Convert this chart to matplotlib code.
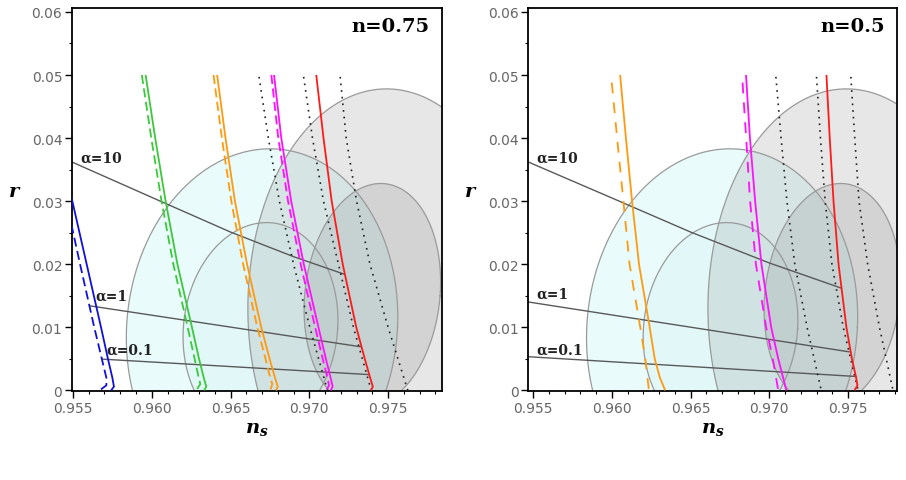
import numpy as np
import matplotlib
matplotlib.use("Agg")
import matplotlib.pyplot as plt
from matplotlib.ticker import MultipleLocator, FuncFormatter

plt.rcParams["mathtext.fontset"] = "custom"
plt.rcParams["mathtext.it"] = "DejaVu Serif:italic:bold"
plt.rcParams["mathtext.rm"] = "DejaVu Serif:bold"

# Observational contours: (ns centre, r centre, half-width, half-height, shear)
CYAN_OUTER = (0.9670, 0.0100, 0.0086, 0.0283, 0.018)
CYAN_INNER = (0.9669, 0.0098, 0.0049, 0.0168, 0.023)
GRAY_OUTER = (0.9749, 0.0130, 0.0088, 0.0348, 0.0)
GRAY_INNER = (0.9740, 0.0150, 0.0043, 0.0178, 0.030)

# ---- n = 0.75 panel, curves as (ns, r)
L_BLUE = [(0.95485, 0.0312), (0.95587, 0.0200), (0.95678, 0.0100), (0.95722, 0.0050),
          (0.95750, 0.0020), (0.95760, 0.0006), (0.95742, 0.0)]
L_BLUE_D = [(0.95490, 0.0263), (0.95545, 0.0200), (0.95635, 0.0100), (0.95683, 0.0050),
            (0.95712, 0.0020), (0.95712, 0.0008), (0.95680, 0.0002), (0.95652, 0.0)]
L_GREEN = [(0.95961, 0.0500), (0.96022, 0.0400), (0.96088, 0.0300), (0.96163, 0.0200),
           (0.96255, 0.0100), (0.96300, 0.0050), (0.96330, 0.0020), (0.96346, 0.0006),
           (0.96333, 0.0)]
L_GREEN_D = [(0.95937, 0.0500), (0.95997, 0.0400), (0.96062, 0.0300), (0.96137, 0.0200),
             (0.96228, 0.0100), (0.96272, 0.0050), (0.96298, 0.0020), (0.96308, 0.0010),
             (0.96282, 0.0)]
L_ORANGE = [(0.96415, 0.0500), (0.96468, 0.0400), (0.96528, 0.0300), (0.96605, 0.0200),
            (0.96695, 0.0100), (0.96748, 0.0050), (0.96782, 0.0020), (0.96800, 0.0006),
            (0.96788, 0.0)]
L_ORANGE_D = [(0.96392, 0.0500), (0.96445, 0.0400), (0.96505, 0.0300), (0.96580, 0.0200),
              (0.96670, 0.0100), (0.96722, 0.0050), (0.96752, 0.0020), (0.96765, 0.0010),
              (0.96752, 0.0)]
L_MAGENTA = [(0.96776, 0.0500), (0.96822, 0.0400), (0.96885, 0.0300), (0.96965, 0.0200),
             (0.97058, 0.0100), (0.97105, 0.0050), (0.97135, 0.0020), (0.97148, 0.0006),
             (0.97136, 0.0)]
L_MAGENTA_D = [(0.96759, 0.0500), (0.96803, 0.0400), (0.96865, 0.0300), (0.96945, 0.0200),
               (0.97037, 0.0100), (0.97085, 0.0050), (0.97115, 0.0020), (0.97125, 0.0008),
               (0.97108, 0.0)]
L_RED = [(0.97044, 0.0500), (0.97090, 0.0400), (0.97142, 0.0300), (0.97212, 0.0200),
         (0.97298, 0.0100), (0.97352, 0.0050), (0.97386, 0.0020), (0.97403, 0.0006),
         (0.97392, 0.0)]
L_DOTS = [
    [(0.96681, 0.0497), (0.96740, 0.0400), (0.96810, 0.0300), (0.96900, 0.0200),
     (0.97003, 0.0100), (0.97115, 0.0)],
    [(0.96964, 0.0497), (0.97020, 0.0400), (0.97090, 0.0300), (0.97185, 0.0200),
     (0.97280, 0.0100), (0.97393, 0.0)],
    [(0.97196, 0.0497), (0.97234, 0.0400), (0.97300, 0.0300), (0.97385, 0.0200),
     (0.97500, 0.0100), (0.97625, 0.0)],
]
L_ALPHA = [
    [(0.95494, 0.0362), (0.9600, 0.0306), (0.9650, 0.0251), (0.9690, 0.0212), (0.97224, 0.0184)],
    [(0.95608, 0.0134), (0.97330, 0.0069)],
    [(0.95682, 0.00496), (0.97382, 0.0025)],
]
L_ALPHA_TXT = [(0.95544, 0.0369), (0.95640, 0.0150), (0.95715, 0.0065)]

# ---- n = 0.5 panel
R_ORANGE = [(0.96052, 0.0500), (0.96089, 0.0400), (0.96128, 0.0300), (0.96172, 0.0200),
            (0.96240, 0.0100), (0.96272, 0.0050), (0.96305, 0.0020), (0.96330, 0.0005),
            (0.96338, 0.0)]
R_ORANGE_D = [(0.95999, 0.0488), (0.96033, 0.0400), (0.96073, 0.0300), (0.96112, 0.0200),
              (0.96180, 0.0100), (0.96212, 0.0050), (0.96235, 0.0)]
R_MAGENTA = [(0.96852, 0.0500), (0.96877, 0.0400), (0.96910, 0.0300), (0.96950, 0.0200),
             (0.97012, 0.0100), (0.97057, 0.0050), (0.97088, 0.0020), (0.97108, 0.0)]
R_MAGENTA_D = [(0.96830, 0.0488), (0.96853, 0.0400), (0.96878, 0.0300), (0.96915, 0.0200),
               (0.96980, 0.0100), (0.97022, 0.0050), (0.97057, 0.0)]
R_RED = [(0.97363, 0.0500), (0.97384, 0.0400), (0.97408, 0.0300), (0.97440, 0.0200),
         (0.97490, 0.0100), (0.97525, 0.0050), (0.97552, 0.0020), (0.97560, 0.0008),
         (0.97542, 0.0)]
R_DOTS = [
    [(0.97042, 0.0497), (0.97075, 0.0400), (0.97112, 0.0300), (0.97162, 0.0200),
     (0.97240, 0.0100), (0.97330, 0.0)],
    [(0.97300, 0.0497), (0.97325, 0.0400), (0.97355, 0.0300), (0.97398, 0.0200),
     (0.97470, 0.0100), (0.97564, 0.0)],
    [(0.97518, 0.0497), (0.97543, 0.0400), (0.97570, 0.0300), (0.97625, 0.0200),
     (0.97700, 0.0100), (0.97786, 0.0)],
]
R_ALPHA = [
    [(0.9546, 0.0363), (0.9600, 0.0305), (0.9650, 0.0251), (0.9700, 0.0202), (0.97459, 0.0162)],
    [(0.9546, 0.01405), (0.97511, 0.0061)],
    [(0.9546, 0.00535), (0.97554, 0.0022)],
]
R_ALPHA_TXT = [(0.95523, 0.0369), (0.95523, 0.0153), (0.95523, 0.0065)]

ALPHA_LABELS = ["\u03b1=10", "\u03b1=1", "\u03b1=0.1"]
PANEL_LABELS = ["n=0.75", "n=0.5"]

BLUE, GREEN, ORANGE, MAGENTA, RED = "#1010d8", "#3cc83c", "#ff9a10", "#ff10ff", "#ff1a1a"


def ellipse(ax, params, face, alpha):
    cx, cy, a, b, s = params
    t = np.linspace(0, 2 * np.pi, 300)
    y = cy + b * np.sin(t)
    x = cx + a * np.cos(t) + s * (y - cy)
    ax.fill(x, y, facecolor=face, alpha=alpha, edgecolor="none", zorder=1)
    ax.plot(x, y, color="#9a9a9a", lw=0.9, zorder=1.5)


def curve(ax, pts, color, ls="-", lw=1.3, z=3):
    arr = np.array(pts)
    ax.plot(arr[:, 0], arr[:, 1], color=color, ls=ls, lw=lw, zorder=z,
            solid_capstyle="butt", dash_capstyle="butt", solid_joinstyle="round")


def style_axes(ax, xlim):
    ax.set_xlim(*xlim)
    ax.set_ylim(-0.0001, 0.0606)
    ax.xaxis.set_major_locator(MultipleLocator(0.005))
    ax.xaxis.set_minor_locator(MultipleLocator(0.001))
    ax.yaxis.set_major_locator(MultipleLocator(0.01))
    ax.yaxis.set_minor_locator(MultipleLocator(0.005))
    ax.xaxis.set_major_formatter(FuncFormatter(lambda v, p: f"{v:.3f}"))
    ax.yaxis.set_major_formatter(FuncFormatter(lambda v, p: "0" if abs(v) < 1e-9 else f"{v:.2f}"))
    ax.tick_params(which="major", direction="out", length=5, width=1.0,
                   labelsize=10, labelcolor="#666666", pad=2)
    ax.tick_params(which="minor", direction="out", length=2.5, width=0.8)
    ax.tick_params(axis="y", which="both", right=False)
    ax.tick_params(axis="x", which="both", top=False)
    for sp in ax.spines.values():
        sp.set_linewidth(1.3)
    ax.set_xlabel("$n_s$", fontsize=14)
    ax.set_ylabel("$r$", fontsize=14, rotation=0)
    ax.xaxis.set_label_coords(0.5, -0.07)
    ax.yaxis.set_label_coords(-0.155, 0.5)


def draw_panel(ax, curves, dashed, dots, alphas, alpha_txt, label, xlim):
    ellipse(ax, CYAN_OUTER, "#e9fbfb", 1.0)
    ellipse(ax, CYAN_INNER, "#e2f8f8", 1.0)
    ellipse(ax, GRAY_OUTER, "#969696", 0.22)
    ellipse(ax, GRAY_INNER, "#969696", 0.24)
    for pts in alphas:
        curve(ax, pts, "#595959", lw=1.0, z=2)
    for (x, y), txt in zip(alpha_txt, ALPHA_LABELS):
        ax.text(x, y, txt, fontsize=10, fontfamily="DejaVu Serif", fontweight="bold",
                color="#222222", ha="left", va="center", zorder=4)
    for pts in dots:
        curve(ax, pts, "#222222", ls=(0, (1, 3)), lw=1.2)
    for pts, c in dashed:
        curve(ax, pts, c, ls=(0, (5, 2.5)) if label == PANEL_LABELS[0] else (0, (6, 5)))
    for pts, c in curves:
        curve(ax, pts, c)
    ax.text(0.968, 0.953, label, transform=ax.transAxes, ha="right", va="center",
            fontfamily="DejaVu Serif", fontweight="bold", fontsize=14)
    style_axes(ax, xlim)


fig = plt.figure(figsize=(9.06, 4.81), dpi=100)
ax1 = fig.add_axes([0.0795, 0.185, 0.408, 0.796])
ax2 = fig.add_axes([0.583, 0.185, 0.407, 0.796])

draw_panel(ax1,
           [(L_BLUE, BLUE), (L_GREEN, GREEN), (L_ORANGE, ORANGE), (L_MAGENTA, MAGENTA), (L_RED, RED)],
           [(L_BLUE_D, BLUE), (L_GREEN_D, GREEN), (L_ORANGE_D, ORANGE), (L_MAGENTA_D, MAGENTA)],
           L_DOTS, L_ALPHA, L_ALPHA_TXT, PANEL_LABELS[0], (0.95494, 0.97840))
draw_panel(ax2,
           [(R_ORANGE, ORANGE), (R_MAGENTA, MAGENTA), (R_RED, RED)],
           [(R_ORANGE_D, ORANGE), (R_MAGENTA_D, MAGENTA)],
           R_DOTS, R_ALPHA, R_ALPHA_TXT, PANEL_LABELS[1], (0.95468, 0.97811))

fig.savefig("out.png", dpi=100)
